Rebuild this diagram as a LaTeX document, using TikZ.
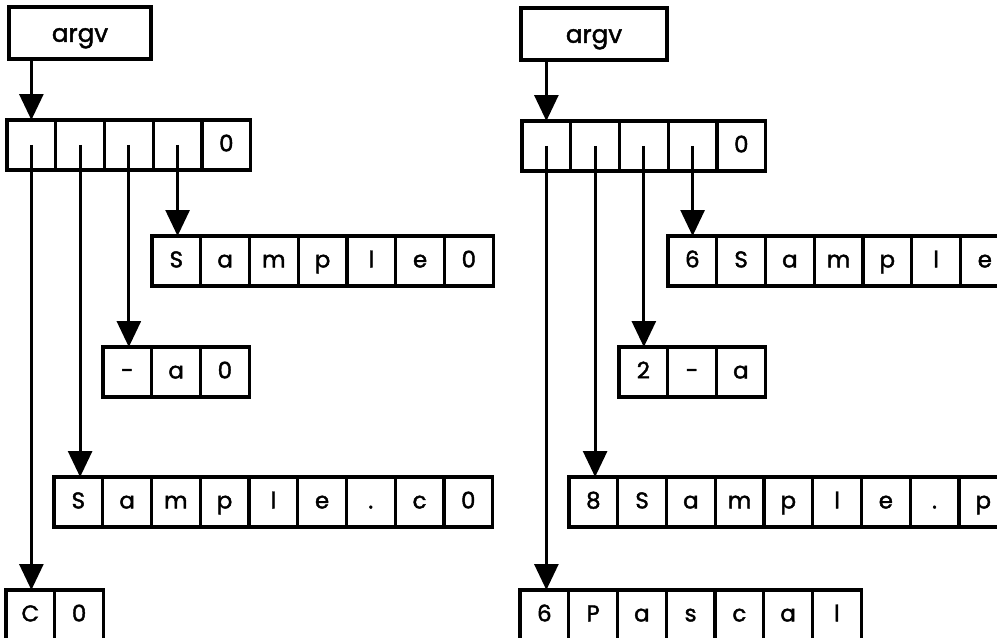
\documentclass[tikz,border=0pt]{standalone}
\usepackage{fontspec}
\setmainfont{Poppins}
\newfontface\cellfont{Poppins}[FakeBold=1.8]
\usetikzlibrary{positioning,arrows.meta}

% one row of character cells: name, west point, characters
\newcommand{\cellrow}[3]{%
  \foreach \ch [count=\i] in {#3}
    \node[cell, anchor=west, xshift=(\i-1)*0.975cm] (#1-\i) at (#2) {\ch};}

\begin{document}
\begin{tikzpicture}[x=0.02cm, y=-0.02cm, font=\cellfont\fontsize{13}{15}\selectfont,
   >={Triangle[width=0.48cm,length=0.52cm]},
   cell/.style={draw, line width=1.8pt, outer sep=0pt, inner sep=0pt,
     minimum width=0.975cm, minimum height=1cm, text height=9.3pt, text depth=2pt},
   namebox/.style={cell, minimum height=1.04cm, font=\cellfont\fontsize{14}{16}\selectfont,
     text height=10pt, text depth=0pt},
   ptr/.style={->, line width=1.6pt}]
  \useasboundingbox (0,0) rectangle (997,638);
  \clip (0,0) rectangle (997,638);

  % C strings (terminated by 0)
  \node[namebox, minimum width=2.84cm] (argvL) at (80,33) {argv};
  \cellrow{arrL}{7,145}{{},{},{},{},0}
  \cellrow{progL}{152,261}{S,a,m,p,l,e,0}
  \cellrow{optL}{103,372}{-,a,0}
  \cellrow{fileL}{54,502}{S,a,m,p,l,e,.,c,0}
  \cellrow{langL}{6,615}{C,0}
  \draw[ptr] (arrL-1.north |- argvL.south) -- (arrL-1.north);
  \draw[ptr] (arrL-1.center) -- (arrL-1.center |- langL-1.north);
  \draw[ptr] (arrL-2.center) -- (arrL-2.center |- fileL-1.north);
  \draw[ptr] (arrL-3.center) -- (arrL-3.center |- optL-1.north);
  \draw[ptr] (arrL-4.center) -- (arrL-4.center |- progL-1.north);

  % Pascal strings (length byte first)
  \node[namebox, minimum width=2.92cm] (argvR) at (594,34) {argv};
  \cellrow{arrR}{522,146}{{},{},{},{},0}
  \cellrow{progR}{668,261}{6,S,a,m,p,l,e}
  \cellrow{optR}{619,372}{2,-,a}
  \cellrow{fileR}{569,502}{8,S,a,m,p,l,e,.,p}
  \cellrow{langR}{520,615}{6,P,a,s,c,a,l}
  \draw[ptr] (arrR-1.north |- argvR.south) -- (arrR-1.north);
  \draw[ptr] (arrR-1.center) -- (arrR-1.center |- langR-1.north);
  \draw[ptr] (arrR-2.center) -- (arrR-2.center |- fileR-1.north);
  \draw[ptr] (arrR-3.center) -- (arrR-3.center |- optR-1.north);
  \draw[ptr] (arrR-4.center) -- (arrR-4.center |- progR-1.north);
\end{tikzpicture}
\end{document}
